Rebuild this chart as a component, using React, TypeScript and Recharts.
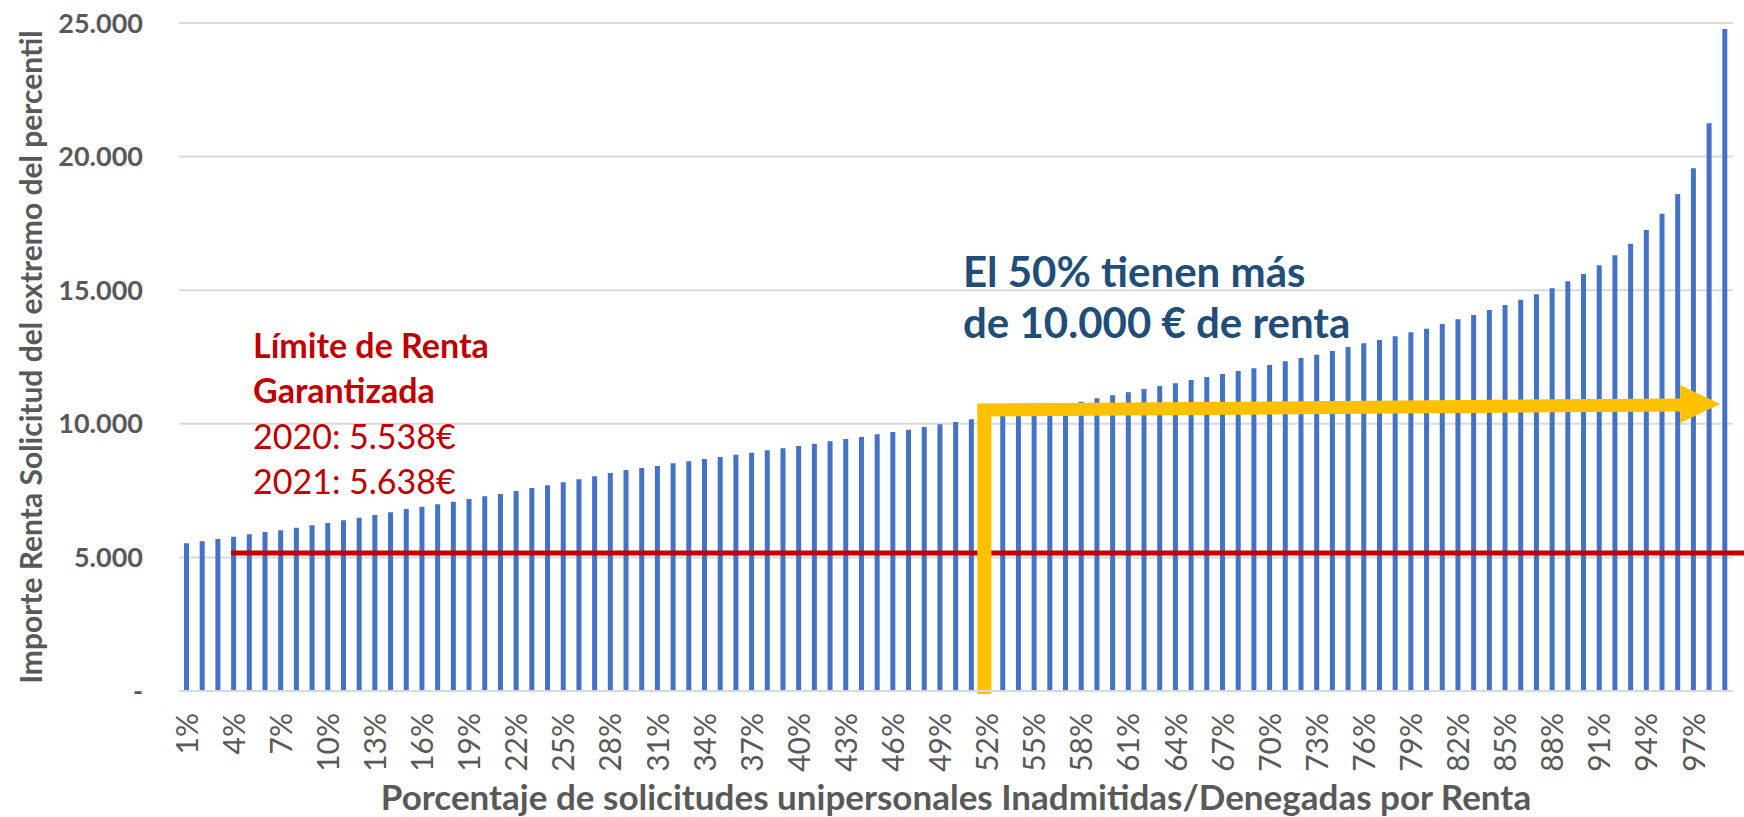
import React from "react";
import { BarChart, Bar, XAxis, YAxis, CartesianGrid, ReferenceLine } from "recharts";

// percentiles 1%..99%
const PERCENTILES: string[] = Array.from({ length: 99 }, (_, i) => `${i + 1}%`);

// importe de renta en el extremo de cada percentil
const RENTA = [
  5527, 5602, 5689, 5776, 5863, 5951, 6013, 6113, 6200, 6287,
  6387, 6487, 6587, 6686, 6811, 6898, 6986, 7085, 7186, 7285,
  7373, 7485, 7597, 7697, 7810, 7923, 8035, 8159, 8271, 8346,
  8421, 8520, 8595, 8683, 8757, 8845, 8919, 9007, 9082, 9169,
  9256, 9344, 9431, 9506, 9606, 9693, 9780, 9880, 9985, 10067,
  10167, 10260, 10360, 10460, 10550, 10640, 10730, 10828, 10953, 11065,
  11178, 11302, 11415, 11515, 11639, 11751, 11864, 11976, 12077, 12201,
  12339, 12463, 12586, 12725, 12874, 13012, 13136, 13275, 13424, 13560,
  13735, 13911, 14072, 14259, 14446, 14645, 14846, 15071, 15332, 15606,
  15932, 16306, 16741, 17253, 17863, 18600, 19562, 21246, 24775,
];

const Y_TICKS = [0, 5000, 10000, 15000, 20000, 25000];

// línea roja del límite de renta y flecha amarilla
const LIMITE = 5165;
const FLECHA_X0 = "52%";
const FLECHA_X1 = "99%";
const FLECHA_Y0 = 10516;
const FLECHA_Y1 = 10741;

const data = PERCENTILES.map((p, i) => ({ pct: p, renta: RENTA[i] }));

const FONT = "Lato, 'Open Sans', sans-serif";
const GRAY = "#595959";

const fmtMiles = (v: number) =>
  v === 0 ? "-" : String(v).replace(/\B(?=(\d{3})+(?!\d))/g, ".");

const XTick = (props: any) => {
  const { x, y, payload } = props;
  return (
    <text
      x={x}
      y={y}
      transform={`rotate(-90, ${x}, ${y})`}
      textAnchor="end"
      dy="0.36em"
      fill={GRAY}
      fontSize={30}
      fontFamily={FONT}
    >
      {payload.value}
    </text>
  );
};

const LimiteShape = (p: any) => (
  <line x1={p.x1 - 3} y1={p.y1} x2={p.x2 + 19} y2={p.y2} stroke="#C00000" strokeWidth={5} />
);

const VerticalShape = (p: any) => (
  <rect x={p.x1 - 10} y={p.y2} width={14} height={p.y1 - p.y2 + 3} fill="#FFC000" />
);

const FlechaShape = (p: any) => {
  const left = p.x1 - 10;
  const hx = p.x2 - 45;
  const tip = p.x2 - 5;
  const yc = p.y2 + 1;
  const pts = [
    [left, p.y1 - 6.5],
    [hx, yc - 6.5],
    [hx, yc - 20],
    [tip, p.y2],
    [hx, yc + 18],
    [hx, yc + 6.5],
    [left, p.y1 + 6.5],
  ]
    .map((q) => q.join(","))
    .join(" ");
  return <polygon points={pts} fill="#FFC000" />;
};

export default function App() {
  return (
    <div style={{ position: "absolute", left: 0, top: 0, width: 1744, height: 817, background: "#fff" }}>
      <BarChart
        width={1744}
        height={817}
        data={data}
        margin={{ top: 23, right: 11, left: 0, bottom: 0 }}
        barCategoryGap="68%"
      >
        <CartesianGrid vertical={false} stroke="#D9D9D9" strokeWidth={2} />
        <XAxis
          dataKey="pct"
          interval={2}
          height={126}
          tickLine={false}
          tickSize={0}
          tickMargin={22}
          axisLine={{ stroke: "#D9D9D9", strokeWidth: 2 }}
          tick={<XTick />}
        />
        <YAxis
          domain={[0, 25000]}
          ticks={Y_TICKS}
          width={179}
          axisLine={false}
          tickLine={false}
          tickSize={0}
          tickMargin={36}
          tickFormatter={fmtMiles}
          tick={{ fill: GRAY, fontSize: 27, fontWeight: 700, fontFamily: FONT }}
        />
        <Bar dataKey="renta" fill="#4472C4" barSize={5} isAnimationActive={false} />
        <ReferenceLine
          ifOverflow="visible"
          segment={[{ x: "4%", y: LIMITE }, { x: "99%", y: LIMITE }]}
          shape={LimiteShape}
        />
        <ReferenceLine
          ifOverflow="visible"
          segment={[{ x: FLECHA_X0, y: 0 }, { x: FLECHA_X0, y: FLECHA_Y1 }]}
          shape={VerticalShape}
        />
        <ReferenceLine
          ifOverflow="visible"
          segment={[{ x: FLECHA_X0, y: FLECHA_Y0 }, { x: FLECHA_X1, y: FLECHA_Y1 }]}
          shape={FlechaShape}
        />
      </BarChart>
      <svg
        width={1744}
        height={817}
        style={{ position: "absolute", left: 0, top: 0, pointerEvents: "none" }}
        fontFamily={FONT}
      >
        <text
          transform="rotate(-90)"
          x={-357}
          y={42}
          textAnchor="middle"
          fill={GRAY}
          fontSize={30}
          fontWeight={700}
        >
          Importe Renta Solicitud del extremo del percentil
        </text>
        <text x={956} y={810} textAnchor="middle" fill={GRAY} fontSize={35} fontWeight={700}>
          Porcentaje de solicitudes unipersonales Inadmitidas/Denegadas por Renta
        </text>
        <g fill="#C00000" fontSize={34}>
          <text x={253} y={358} fontWeight={700}>Límite de Renta</text>
          <text x={253} y={403} fontWeight={700}>Garantizada</text>
          <text x={253} y={449}>2020: 5.538€</text>
          <text x={253} y={494}>2021: 5.638€</text>
        </g>
        <g fill="#1F4E79" fontSize={42} fontWeight={700}>
          <text x={963} y={287}>El 50% tienen más</text>
          <text x={963} y={338}>de 10.000 € de renta</text>
        </g>
      </svg>
    </div>
  );
}
